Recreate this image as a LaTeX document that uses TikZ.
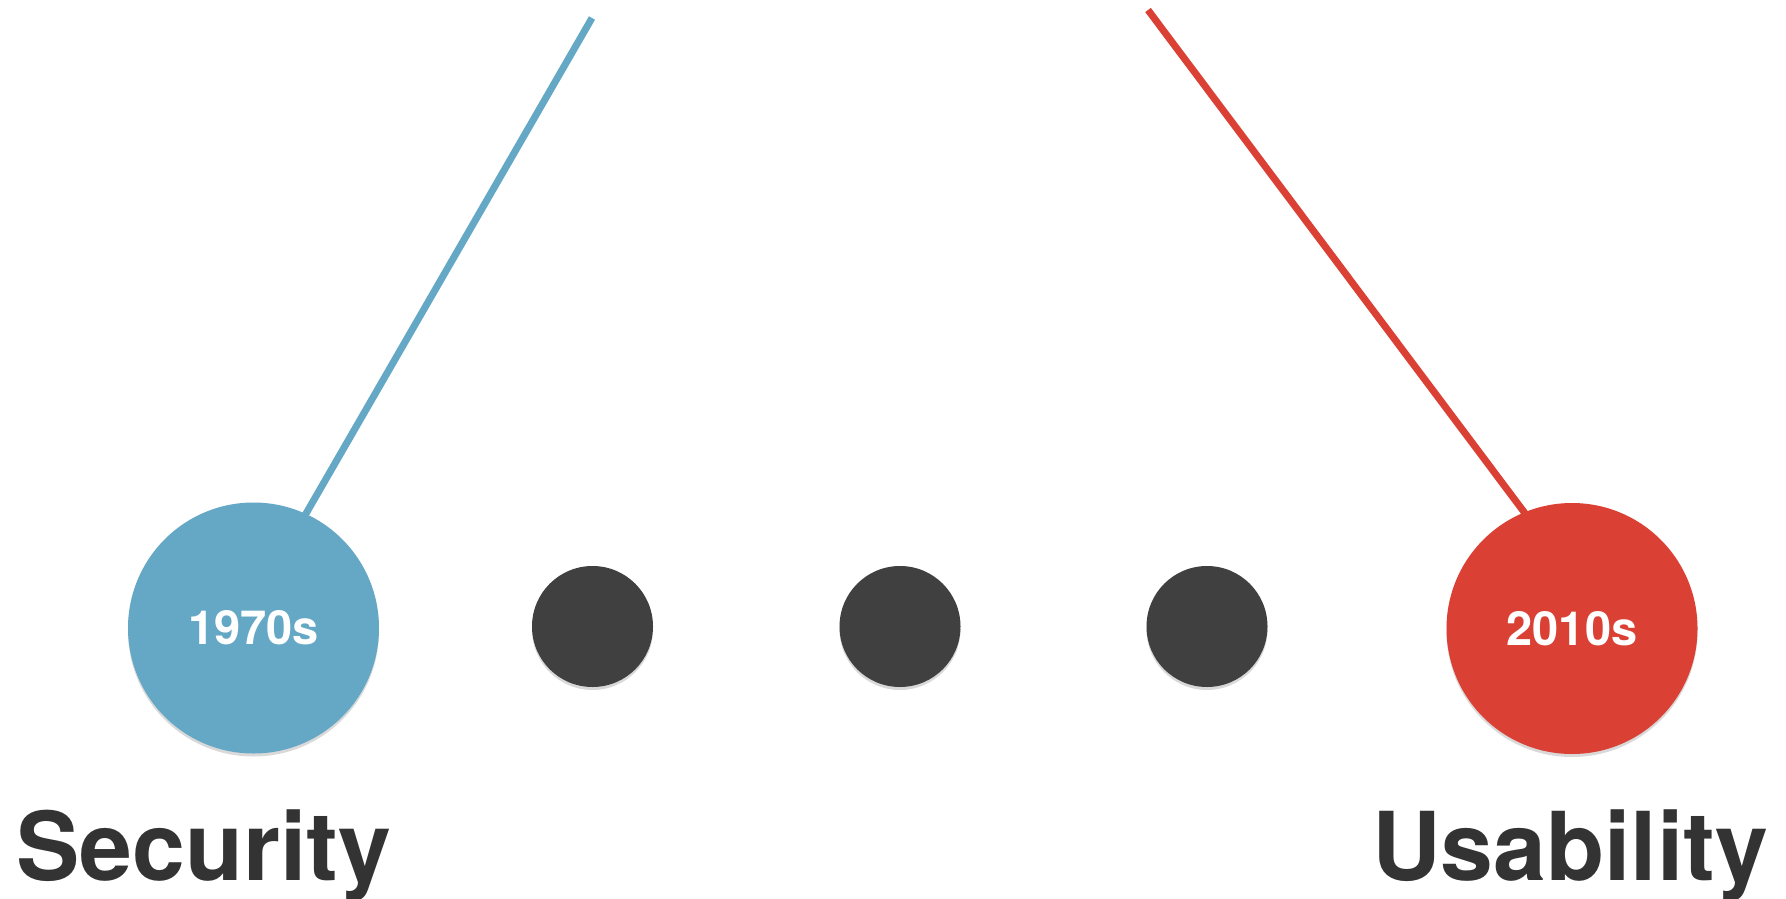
\documentclass[tikz,border=0pt]{standalone}
\usepackage{fontspec}
\setmainfont{TeX Gyre Heros}
\usetikzlibrary{shadows}
\definecolor{cblue}{HTML}{65A8C6}
\definecolor{cred}{HTML}{DB4035}
\definecolor{cdark}{HTML}{404040}
\definecolor{ctext}{HTML}{333333}
\tikzset{
  era/.style={circle, minimum size=251pt, inner sep=0pt, text=white,
    font=\fontsize{47}{47}\selectfont\bfseries,
    drop shadow={shadow xshift=0pt, shadow yshift=-3pt, opacity=0.15, fill=black}},
  dot/.style={circle, fill=cdark, minimum size=121pt, inner sep=0pt,
    drop shadow={shadow xshift=0pt, shadow yshift=-3pt, opacity=0.15, fill=black}},
  stick/.style={line width=7pt},
  label/.style={text=ctext, font=\fontsize{95}{95}\selectfont\bfseries, inner sep=0pt, anchor=base west}
}
\begin{document}
\begin{tikzpicture}[x=1pt,y=-1pt]
\useasboundingbox[fill=white] (0,0) rectangle (1786,899);
\coordinate (btop) at (592,18);
\coordinate (bbot) at (300,524);
\coordinate (rtop) at (1148,10);
\coordinate (rbot) at (1530,520);
\draw[stick, cblue] (btop) -- (bbot);
\draw[stick, cred] (rtop) -- (rbot);
\node[era, fill=cblue] (sec) at (253.5,628) {1970s};
\node[dot] (d1) at (592.5,626.5) {};
\node[dot] (d2) at (900,626.5) {};
\node[dot] (d3) at (1207,626.5) {};
\node[era, fill=cred] (use) at (1572,628.5) {2010s};
\node[label] (lsec) at (16,880) {Security};
\node[label] (luse) at (1372,880) {Usability};
\end{tikzpicture}
\end{document}
